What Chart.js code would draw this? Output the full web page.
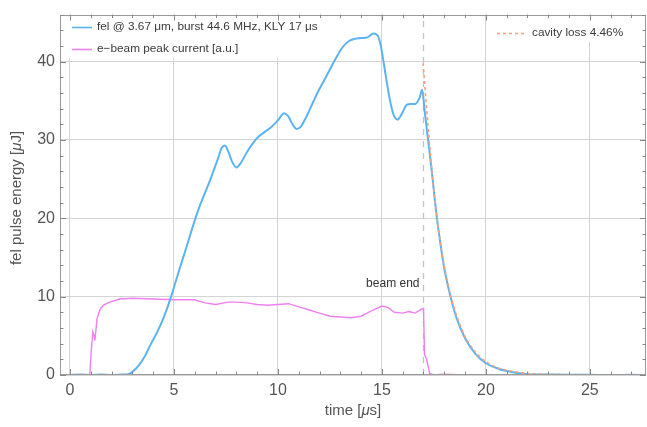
<!DOCTYPE html>
<html><head><meta charset="utf-8">
<script src="https://cdn.jsdelivr.net/npm/chart.js@4"></script>
<style>html,body{margin:0;padding:0;background:#fff;}#wrap{width:647px;height:427px;}</style>
</head><body><div id="wrap"><canvas id="c" width="647" height="427"></canvas></div>
<script>
// ---- data ----
const felTime = [0,0.5,1,1.5,2,2.5,2.8,3.0,3.3,3.6,3.9,4.2,4.5,4.8,5.0,5.3,5.6,5.9,6.2,6.5,6.8,7.1,7.3,7.45,7.6,7.8,8.0,8.2,8.5,8.8,9.1,9.4,9.7,10.0,10.3,10.5,10.7,10.9,11.1,11.3,11.6,11.9,12.2,12.5,12.8,13.1,13.4,13.7,14.0,14.3,14.6,14.8,14.95,15.1,15.37,15.55,15.75,15.95,16.2,16.4,16.6,16.8,16.94,17.05,17.2,17.4,17.6,17.8,18.0,18.3,18.6,19.0,19.5,20.0,20.5,21.0,21.5,22.0,23.0,24.0,25.0,26.0,27.0,27.4];
const felEnergy = [0,0.05,0,0.05,0,0.05,0.1,0.4,1.2,2.4,4.0,5.5,7.3,9.5,11.2,13.8,16.3,18.9,21.3,23.3,25.3,27.5,29.0,29.3,28.6,27.2,26.5,27.0,28.4,29.6,30.5,31.1,31.7,32.5,33.4,33.0,32.0,31.4,31.7,32.6,34.3,36.0,37.5,39.0,40.5,41.8,42.6,42.9,43.0,43.1,43.6,43.3,42.0,39.6,35.3,33.3,32.6,33.3,34.5,34.6,34.6,35.3,36.4,33.8,30.5,26.0,21.0,17.0,13.6,10.0,7.2,4.7,2.7,1.5,0.9,0.5,0.25,0.1,0.05,0.03,0.02,0,0.02,0];
const beamTime = [0,0.5,0.95,1.02,1.1,1.16,1.2,1.3,1.45,1.6,1.9,2.4,3.0,4.0,5.0,6.0,6.5,7.0,7.6,8.0,8.5,9.0,9.5,10.0,10.5,11.0,11.5,12.0,12.5,13.0,13.5,14.0,14.5,15.0,15.3,15.6,16.0,16.3,16.6,16.9,17.0,17.05,17.15,17.3,17.5,18,19,20,21,22,23,24,25,26,27,27.4];
const beamCurrent = [0,0,0,3.0,5.5,5.0,4.4,7.2,8.4,8.9,9.3,9.7,9.8,9.7,9.6,9.6,9.2,9.0,9.3,9.3,9.2,9.0,8.9,9.0,9.1,8.7,8.3,7.9,7.5,7.4,7.3,7.5,8.2,8.8,8.6,8.0,7.9,8.1,7.9,8.4,8.5,2.6,2.0,0.2,0,0.1,0,0.05,0,0.05,0,0.05,0,0.05,0,0];
const lossTime = [16.98,17.2,17.4,17.6,17.8,18.0,18.3,18.6,19.0,19.5,20.0,20.5,21.0,22.0,23.0,24.0,25.0,26.0,27.4];
const lossEnergy = [39.8,32.4,26.2,21.2,17.2,13.9,10.2,7.5,4.9,2.9,1.7,1.0,0.6,0.2,0.07,0.03,0.01,0,0];
const beamEndTime = 17.0;
const xTicks = [0,5,10,15,20,25];
const yTicks = [0,10,20,30,40];
const legendLabels = ["fel @ 3.67 \u03bcm, burst 44.6 MHz, KLY 17 \u03bcs","e\u2212beam peak current [a.u.]","cavity loss 4.46%"];

const toPts = (xs, ys) => xs.map((x,i)=>({x:x, y:ys[i]}));
const BLUE = '#5cb3f2', PINK = '#f07ff0', ORANGE = '#f6a27c', GRID = '#d4d4d4', FRAME = '#9a9a9a', TXT = '#555';

const decor = {
  id: 'decor',
  beforeDatasetsDraw(chart) {
    const c = chart.ctx;
    c.save();
    c.fillStyle = '#fff';
    c.fillRect(62, 15, 262, 43);
    c.fillRect(488, 15, 156, 27);
    c.restore();
  },
  afterDraw(chart) {
    const c = chart.ctx, xs = chart.scales.x, ys = chart.scales.y, a = chart.chartArea;
    c.save();
    c.strokeStyle = FRAME; c.lineWidth = 1;
    c.strokeRect(Math.round(a.left)+0.5, Math.round(a.top)+0.5, Math.round(a.right-a.left)-1, Math.round(a.bottom-a.top)-1);
    c.strokeStyle = '#888';
    c.beginPath();
    for (let v = 0; v <= 27; v++) {
      const p = Math.round(xs.getPixelForValue(v)) + 0.5;
      const L = (v % 5 === 0) ? 6 : 3.5;
      c.moveTo(p, a.bottom); c.lineTo(p, a.bottom - L);
      c.moveTo(p, a.top); c.lineTo(p, a.top + L);
    }
    for (let v = 0; v <= 46; v += 2) {
      const p = Math.round(ys.getPixelForValue(v)) + 0.5;
      const L = (v % 10 === 0) ? 6 : 3.5;
      c.moveTo(a.left, p); c.lineTo(a.left + L, p);
      c.moveTo(a.right, p); c.lineTo(a.right - L, p);
    }
    c.stroke();
    c.lineWidth = 1.6;
    c.strokeStyle = BLUE; c.beginPath(); c.moveTo(72, 27.5); c.lineTo(92, 27.5); c.stroke();
    c.strokeStyle = PINK; c.beginPath(); c.moveTo(72, 49.5); c.lineTo(92, 49.5); c.stroke();
    c.strokeStyle = ORANGE; c.setLineDash([3,3]); c.beginPath(); c.moveTo(497, 33.5); c.lineTo(526, 33.5); c.stroke(); c.setLineDash([]);
    c.fillStyle = '#3a3a3a'; c.font = '11.8px "Liberation Sans", Arial, sans-serif'; c.textBaseline = 'middle'; c.textAlign = 'left';
    c.fillText(legendLabels[0], 97, 27);
    c.fillText(legendLabels[1], 97, 49);
    c.fillText(legendLabels[2], 532, 33);
    c.textAlign = 'right'; c.font = '12px "Liberation Sans", Arial, sans-serif'; c.fillStyle = '#333';
    c.fillText('beam end', xs.getPixelForValue(beamEndTime) - 4, ys.getPixelForValue(11.7));
    const tf = '15px "Liberation Sans", Arial, sans-serif', tfi = 'italic 15px "Liberation Sans", Arial, sans-serif';
    function mixed(parts, cx, cy) {
      let w = 0;
      parts.forEach(p => { c.font = p[1] ? tfi : tf; w += c.measureText(p[0]).width; });
      let x = cx - w/2;
      c.textAlign = 'left';
      parts.forEach(p => { c.font = p[1] ? tfi : tf; c.fillText(p[0], x, cy); x += c.measureText(p[0]).width; });
    }
    c.fillStyle = TXT; c.textBaseline = 'middle';
    mixed([['time [',0],['\u03bc',1],['s]',0]], 353, 411);
    c.translate(17, 198); c.rotate(-Math.PI/2);
    mixed([['fel pulse energy [',0],['\u03bc',1],['J]',0]], 0, 0);
    c.restore();
  }
};

new Chart(document.getElementById('c'), {
  type: 'line',
  data: { datasets: [
    { data: toPts(lossTime, lossEnergy), borderColor: ORANGE, borderWidth: 1.6, borderDash: [3,3], pointRadius: 0, tension: 0.3, order: 1 },
    { data: toPts(felTime, felEnergy), borderColor: BLUE, borderWidth: 2, pointRadius: 0, cubicInterpolationMode: 'monotone', order: 2 },
    { data: toPts(beamTime, beamCurrent), borderColor: PINK, borderWidth: 1.4, pointRadius: 0, order: 3 },
    { data: [{x: beamEndTime, y: 0}, {x: beamEndTime, y: 46.2}], borderColor: '#c4c4c4', borderWidth: 1.3, borderDash: [6,6], pointRadius: 0, order: 4 }
  ]},
  options: {
    responsive: false, animation: false,
    layout: { padding: { top: 13, right: 1, left: 0, bottom: 0 } },
    plugins: { legend: { display: false }, tooltip: { enabled: false } },
    scales: {
      x: { type: 'linear', min: -0.48, max: 27.7,
        afterBuildTicks: s => { s.ticks = xTicks.map(v => ({value: v})); },
        afterFit: s => { s.height = 52; },
        grid: { color: GRID, lineWidth: 1, drawTicks: false }, border: { display: false },
        ticks: { color: TXT, font: { size: 16, family: '"Liberation Sans", Arial, sans-serif' }, padding: 6, maxRotation: 0 } },
      y: { min: 0, max: 46.0,
        afterBuildTicks: s => { s.ticks = yTicks.map(v => ({value: v})); },
        afterFit: s => { s.width = 60; },
        grid: { color: GRID, lineWidth: 1, drawTicks: false }, border: { display: false },
        ticks: { color: TXT, font: { size: 16, family: '"Liberation Sans", Arial, sans-serif' }, padding: 5 } }
    }
  },
  plugins: [decor]
});
</script></body></html>
